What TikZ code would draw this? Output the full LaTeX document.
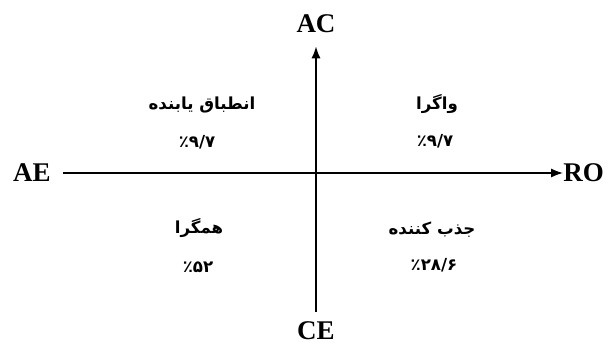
\documentclass[tikz,border=0pt]{standalone}
\usepackage{fontspec}
\setmainfont{Liberation Serif}
\newfontfamily\arabicfont[Script=Arabic]{DejaVu Sans}
\TeXXeTstate=1
\usetikzlibrary{arrows.meta}

\begin{document}
\begin{tikzpicture}[x=0.5pt, y=-0.5pt, >={Latex[length=6pt,width=4.6pt]},
  axislbl/.style={font=\fontsize{13.5}{15}\selectfont\bfseries, inner sep=6pt},
  quad/.style={font=\arabicfont\fontsize{8.3}{10}\selectfont\bfseries, inner sep=1pt},
  axis/.style={line width=0.75pt, ->}]
  \useasboundingbox (0,0) rectangle (607,343);
  % axis labels
  \node[axislbl] (ae) at (32,173) {AE};
  \node[axislbl, inner xsep=0pt, anchor=west] (ro) at (563,173) {RO};
  \node[axislbl, inner ysep=6.5pt] (ac) at (316,24) {AC};
  \node[axislbl, inner ysep=5pt] (ce) at (316,331) {CE};
  \draw[axis] (ae) -- (ro);
  \draw[axis] (ce) -- (ac);
  % quadrants
  \node[quad] (adapt)  at (202,105) {\beginR انطباق یابنده\endR};
  \node[quad] (adaptp) at (197,142) {\beginR\beginL ۹/۷\endL٪\endR};
  \node[quad] (diverge)  at (437,104) {\beginR واگرا\endR};
  \node[quad] (divergep) at (435,141) {\beginR\beginL ۹/۷\endL٪\endR};
  \node[quad] (converge)  at (199,228) {\beginR همگرا\endR};
  \node[quad] (convergep) at (198,267) {\beginR\beginL ۵۲\endL٪\endR};
  \node[quad] (absorb)  at (432,230) {\beginR جذب کننده\endR};
  \node[quad] (absorbp) at (434,265) {\beginR\beginL ۲۸/۶\endL٪\endR};
\end{tikzpicture}
\end{document}
